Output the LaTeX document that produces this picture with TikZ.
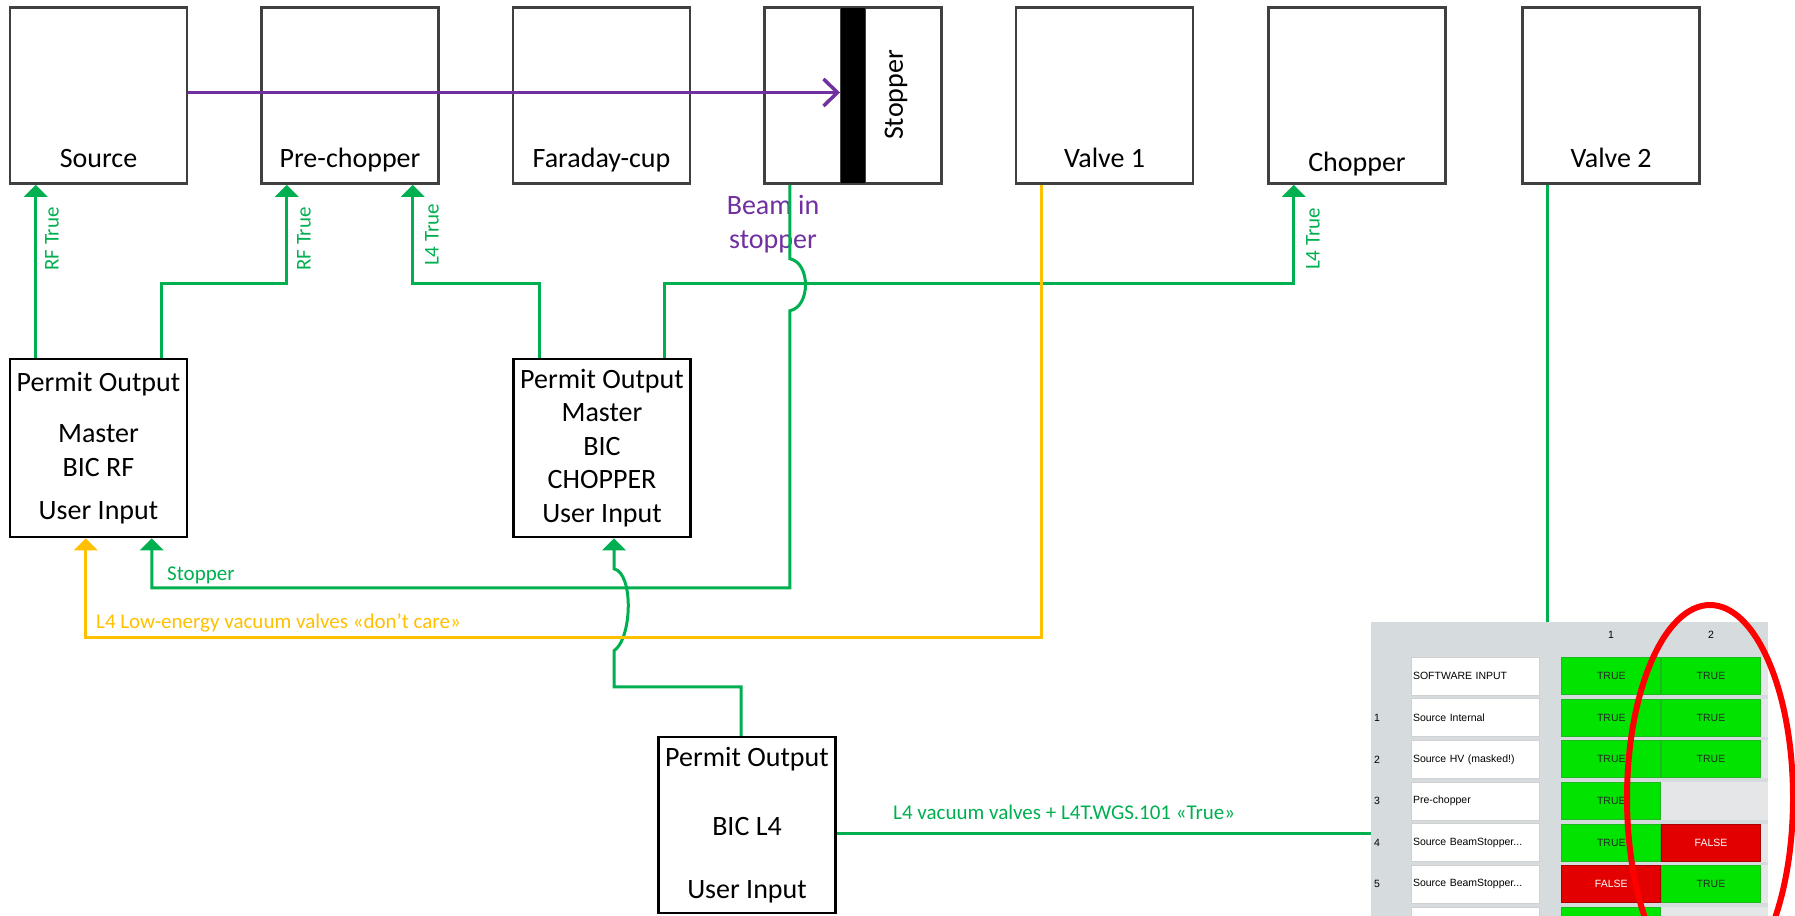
\documentclass[tikz,border=0pt]{standalone}
\usepackage{fontspec}
\setmainfont{Carlito}
\newfontfamily\tabfont{Liberation Sans}
\usetikzlibrary{arrows.meta}
\definecolor{cSig}{HTML}{00B050}
\definecolor{cVac}{HTML}{FFC000}
\definecolor{cBeam}{HTML}{7030A0}
\definecolor{cBox}{HTML}{404040}
\definecolor{cPanel}{RGB}{214,219,222}
\definecolor{cRow}{RGB}{229,230,231}
\definecolor{cOk}{RGB}{0,228,0}
\definecolor{cOkEdge}{RGB}{30,185,30}
\definecolor{cBad}{RGB}{226,0,0}
\definecolor{cBadEdge}{RGB}{170,0,0}
\definecolor{cMark}{RGB}{255,0,0}
\newcommand{\devsize}{\fontsize{28}{33.5}\selectfont}
\newcommand{\sigsize}{\fontsize{21}{25}\selectfont}
\newcommand{\tabsize}{\tabfont\fontsize{10.5}{12}\selectfont}
\newcommand{\bstopper}{Source BeamStopper...}
\tikzset{
  dev/.style={draw=cBox,line width=2.5pt,minimum width=177pt,inner sep=0pt,text height=160pt,text depth=16pt,font=\devsize},
  permit/.style={draw=black,line width=2.5pt,minimum width=177pt,minimum height=178pt,inner sep=0pt,align=center,font=\devsize},
  sig/.style={line width=3pt,cSig},
  sigarr/.style={sig,-{Triangle[width=23pt,length=12pt]}},
  vacarr/.style={line width=3pt,cVac,-{Triangle[width=23pt,length=12pt]}},
  beam/.style={line width=3.5pt,cBeam,-{Straight Barb[length=14pt,width=27pt,line width=3.5pt]}},
  glbl/.style={font=\sigsize,text=cSig,inner sep=1pt},
  vlbl/.style={font=\sigsize,text=cVac,inner sep=1pt},
  tabtxt/.style={font=\tabsize,inner sep=1pt},
  rowlbl/.style={fill=white,draw=black!18,line width=.8pt,minimum width=128pt,minimum height=38pt,text width=124pt,inner sep=2pt,align=left,font=\tabsize},
  cellbox/.style={minimum width=99pt,minimum height=37pt,inner sep=0pt,line width=1pt,font=\tabsize},
  stT/.style={fill=cOk,draw=cOkEdge,text=black!85,node contents=TRUE},
  stF/.style={fill=cBad,draw=cBadEdge,text=white,node contents=FALSE},
  stG/.style={fill=cOk,draw=cOkEdge,node contents={}},
  stN/.style={draw=none,fill=none,node contents={}},
}
\begin{document}
\begin{tikzpicture}[x=1pt,y=-1pt]
  \clip (0,0) rectangle (1795,915);
  % beam line devices
  \node[dev] (src) at (98.5,95.5) {Source};
  \node[dev] (prech) at (350,95.5) {Pre-chopper};
  \node[dev] (fcup) at (601.5,95.5) {Faraday-cup};
  \node[dev] (stop) at (853,95.5) {};
  \node[dev] (valveA) at (1104.5,95.5) {Valve 1};
  \node[dev,text height=164pt,text depth=12pt] (chop) at (1357,95.5) {Chopper};
  \node[dev] (valveB) at (1611,95.5) {Valve 2};
  \node[fill=black,draw=cBox,line width=1pt,minimum width=25pt,minimum height=176pt,inner sep=0pt] (bar) at (853,95.5) {};
  \node[rotate=90,font=\devsize] (stoplbl) at (896,95) {Stopper};
  \node[font=\devsize,text=cBeam,align=center,inner sep=0pt] (beamlbl) at (773,224) {Beam in\\stopper};
  \draw[beam] ([yshift=3pt]src.east) -- ([yshift=3pt]src.east -| bar.west);
  % beam interlock controllers
  \node[permit] (bicrf) at (98.5,448) {Permit Output\\[18pt]Master\\BIC RF\\[10pt]User Input};
  \node[permit] (bicch) at (602,448) {Permit Output\\Master\\BIC\\CHOPPER\\User Input};
  \node[permit,minimum height=176pt] (bicl4) at (747,825) {Permit Output\\[36pt]BIC L4\\[29pt]User Input};
  % interlock matrix
  \node[fill=cPanel,inner sep=0pt,minimum width=397pt,minimum height=300pt,anchor=north west] (panel) at (1371,622) {};
  \node[tabtxt] (h1) at (1611,635) {1};
  \node[tabtxt] (h2) at (1711,635) {2};
  \foreach \i/\num/\txt/\a/\b in {0//SOFTWARE INPUT/T/T,1/1/Source Internal/T/T,2/2/Source HV (masked!)/T/T,3/3/Pre-chopper/T/N,4/4/\bstopper/T/F,5/5/\bstopper/F/T,6///G/N}{
    \fill[cRow] (1561,{657+41.67*\i}) rectangle ++(207,38);
    \node[tabtxt,anchor=west] (n\i) at (1373,{676+41.67*\i}) {\num};
    \node[rowlbl] (r\i) at (1475,{676+41.67*\i}) {\txt};
    \node (c\i-1) at (1611.3,{676+41.67*\i}) [cellbox,st\a];
    \node (c\i-2) at (1711,{676+41.67*\i}) [cellbox,st\b];
  }
  % permits
  \draw[sigarr] ([xshift=27pt]bicrf.north west) -- ([xshift=27pt]bicrf.north west |- src.south);
  \draw[sigarr] ([xshift=153pt]bicrf.north west) -- ++(0,-74) -| ([xshift=26.5pt]prech.south west);
  \draw[sigarr] ([xshift=27pt]bicch.north west) -- ++(0,-74) -| ([xshift=152.5pt]prech.south west);
  \draw[sigarr] ([xshift=152pt]bicch.north west) -- ++(0,-74) -| ([xshift=26.5pt]chop.south west);
  \draw[sigarr] ([xshift=26.5pt]stop.south west) -- ++(0,74) .. controls +(21,4) and +(21,-4) .. ++(0,52) -- ++(0,277) -| ([xshift=143pt]bicrf.south west);
  \draw[sigarr] ([xshift=-6pt]bicl4.north) -- ++(0,-49) -| ++(-127,-36) .. controls +(18,-12) and +(20,5) .. ++(0,-82) -- ([xshift=101.75pt]bicch.south west);
  \draw[vacarr] ([xshift=27pt]valveA.south west) -- ++(0,453) -| ([xshift=77pt]bicrf.south west);
  \draw[sig] ([yshift=-8pt]bicl4.east) -- ([yshift=-8pt]bicl4.east -| panel.west);
  \draw[sig] ([xshift=26.5pt]valveB.south west) -- ([xshift=26.5pt]valveB.south west |- panel.north);
  % labels
  \node[glbl,rotate=90] (lrf1) at (52,239) {RF True};
  \node[glbl,rotate=90] (lrf2) at (304,239) {RF True};
  \node[glbl,rotate=90] (ll4a) at (432,235) {L4 True};
  \node[glbl,rotate=90] (ll4b) at (1313,239) {L4 True};
  \node[glbl,anchor=west] (lstop) at (166,575) {Stopper};
  \node[vlbl,anchor=west] (lvac) at (95,623) {L4 Low-energy vacuum valves «don’t care»};
  \node[glbl,anchor=west] (lperm) at (892,812) {L4 vacuum valves + L4T.WGS.101 «True»};
  \draw[cMark,line width=6pt] (1710,798) ellipse (83 and 193);
\end{tikzpicture}
\end{document}
